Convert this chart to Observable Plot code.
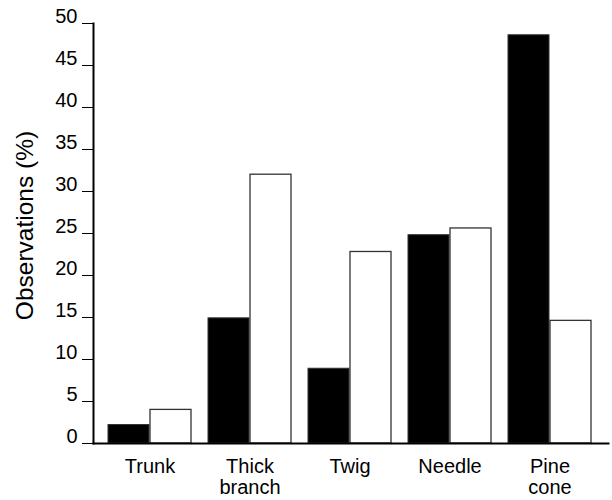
<!DOCTYPE html>
<html>
<head>
<meta charset="utf-8">
<script src="https://cdn.jsdelivr.net/npm/d3@7"></script>
<script src="https://cdn.jsdelivr.net/npm/@observablehq/plot@0.6"></script>
<style>
  html, body { margin: 0; padding: 0; background: #fff; }
  #chart svg { display: block; }
</style>
</head>
<body>
<div id="chart"></div>
<script>
const categories = ["Trunk", "Thick\nbranch", "Twig", "Needle", "Pine\ncone"];
const seriesNames = ["black", "white"];
const blackValues = [2.2, 14.9, 8.9, 24.8, 48.6];
const whiteValues = [4.0, 32.0, 22.8, 25.6, 14.6];
const yTicks = [0, 5, 10, 15, 20, 25, 30, 35, 40, 45, 50];

const blackData = categories.map((c, i) => ({category: c, series: seriesNames[0], value: blackValues[i]}));
const whiteData = categories.map((c, i) => ({category: c, series: seriesNames[1], value: whiteValues[i]}));

const font = "'Liberation Sans', Arial, Helvetica, sans-serif";

const chart = Plot.plot({
  width: 612,
  height: 500,
  marginLeft: 93,
  marginRight: 4,
  marginTop: 23,
  marginBottom: 57,
  style: {fontFamily: font, fontSize: "20px", color: "#000", background: "#fff"},
  x: {domain: categories, paddingInner: 0.166, paddingOuter: 0.139, align: 0.464, label: null},
  y: {domain: [0, 50], label: null},
  marks: [
    Plot.barY(blackData, {x: "category", y: "value", insetRight: 42, fill: "#000", stroke: "#333", strokeWidth: 1}),
    Plot.barY(whiteData, {x: "category", y: "value", insetLeft: 42, fill: "#fff", stroke: "#333", strokeWidth: 1.3}),
    Plot.axisY({ticks: yTicks, tickSize: 11, tickWidth: 2, text: null, label: null, stroke: "#000"}),
    Plot.axisY({ticks: yTicks, tickSize: 0, tickPadding: 16, dy: -7, fontSize: 20, label: null}),
    Plot.axisX({tickSize: 0, tickPadding: 15, fontSize: 20, label: null, lineHeight: 1.05}),
    Plot.frame({anchor: "left", stroke: "#000", strokeWidth: 2}),
    Plot.frame({anchor: "bottom", stroke: "#000", strokeWidth: 2}),
    Plot.text(["Observations (%)"], {frameAnchor: "left", dx: -68, dy: -8, rotate: -90, textAnchor: "middle", fontSize: 24.5, fill: "#000"})
  ]
});
document.getElementById("chart").appendChild(chart);
</script>
</body>
</html>
